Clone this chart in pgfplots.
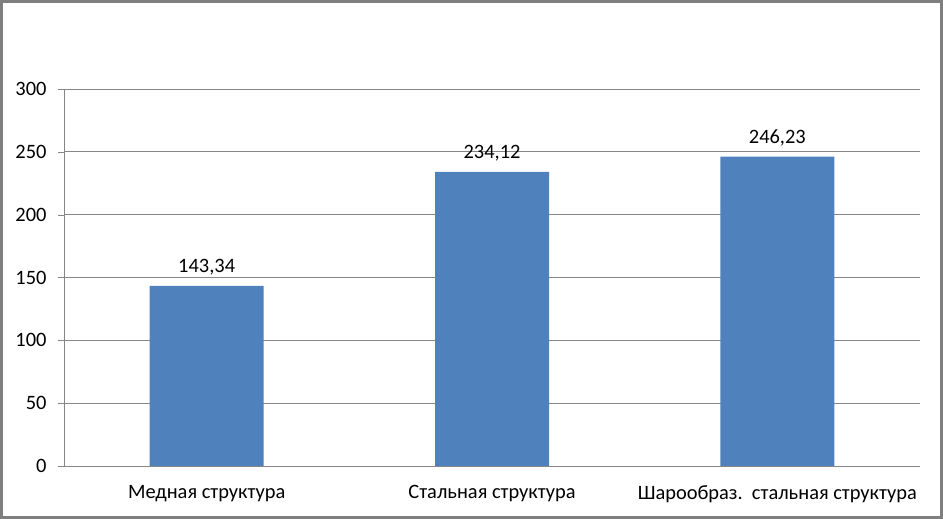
\documentclass[border=0pt]{standalone}
\usepackage{fontspec}
\setmainfont{Carlito}
\usepackage{pgfplots}
\pgfplotsset{compat=1.18}
\definecolor{barblue}{HTML}{4F81BD}
\definecolor{gridgray}{HTML}{868686}
\definecolor{framegray}{HTML}{7F7F7F}
\begin{document}
\begin{tikzpicture}[x=1bp,y=1bp]
\useasboundingbox (0,0) rectangle (943,519);
\draw[framegray, line width=3bp] (1.5,1.5) rectangle (941.5,517.5);
\begin{axis}[
  at={(64bp,53bp)}, anchor=south west,
  width=856bp, height=377bp, scale only axis,
  xmin=-0.5, xmax=2.5, ymin=0, ymax=300,
  ytick={0,50,...,300},
  xtick={0,1,2},
  xticklabels={Медная структура, Стальная структура, Шарообраз.\ \ стальная структура},
  extra x ticks={-0.5,0.5,1.5,2.5},
  extra x tick labels={},
  extra x tick style={major tick length=6bp, tick style={gridgray}, tick align=outside},
  major x tick style={draw=none},
  axis x line*=bottom, axis y line*=left,
  axis line style={gridgray, -},
  ymajorgrids, grid style={gridgray, line width=0.8bp},
  y tick style={gridgray}, tick align=outside, major tick length=6bp,
  ticklabel style={font=\fontsize{20.5}{24}\selectfont, text=black},
  /pgf/number format/assume math mode=true,
  yticklabel style={xshift=-8bp},
  xticklabel style={yshift=-10bp},
  bar width=114bp,
  nodes near coords,
  nodes near coords style={font=\fontsize{20.5}{24}\selectfont, text=black, yshift=7bp,
    /pgf/number format/.cd, fixed, fixed zerofill, precision=2, use comma, assume math mode=true},
]
\addplot[ybar, fill=barblue, draw=none] coordinates {(0,143.34) (1,234.12) (2,246.23)};
\end{axis}
\end{tikzpicture}
\end{document}
